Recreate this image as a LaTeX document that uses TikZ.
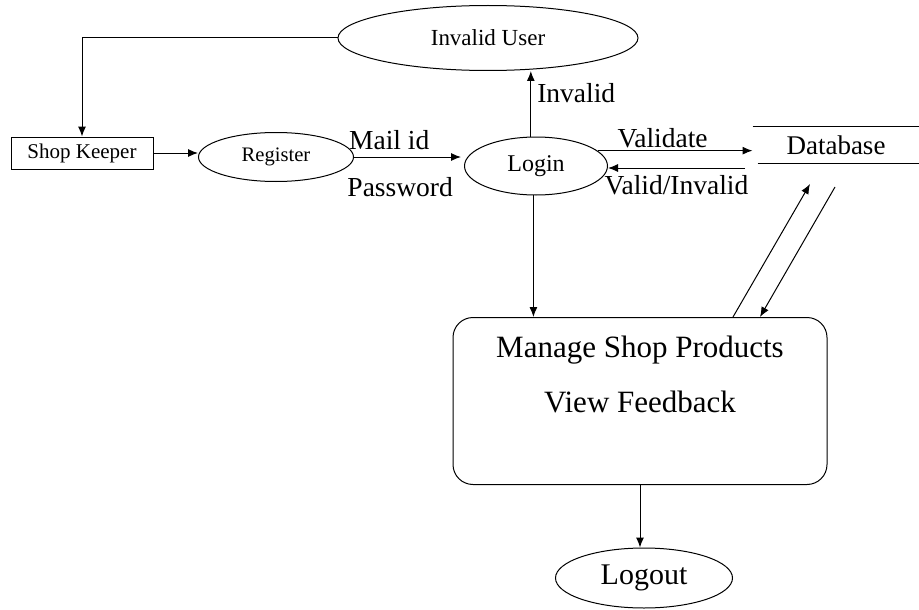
\documentclass[tikz,border=0pt]{standalone}
\usepackage{fontspec}
\setmainfont{Liberation Serif}
\usetikzlibrary{shapes.geometric,arrows.meta}

\begin{document}
\begin{tikzpicture}[x=1pt, y=-1pt, line width=1pt,
  >={Latex[length=10pt,width=8pt]},
  proc/.style={draw, ellipse, inner sep=0pt},
  lbl/.style={font=\fontsize{27.5}{30}\selectfont, inner sep=2pt}]
  \useasboundingbox (0,0) rectangle (919,610);

  % Draw the processes
  \node[proc, minimum width=300pt, minimum height=65pt, font=\fontsize{23}{26}\selectfont] (invuser) at (488,38) {Invalid User};
  \node[draw, minimum width=142pt, minimum height=32pt, inner sep=0pt, font=\fontsize{21}{24}\selectfont] (keeper) at (82,153) {Shop Keeper};
  \node[proc, minimum width=155pt, minimum height=49pt, font=\fontsize{20.6}{24}\selectfont] (register) at (276,157) {Register};
  \node[proc, minimum width=143pt, minimum height=58pt, font=\fontsize{24}{27}\selectfont] (login) at (536,166) {Login};
  \node[proc, minimum width=177pt, minimum height=60pt, font=\fontsize{30}{34}\selectfont] (logout) at (644,578) {Logout};

  % Draw the data store
  \node[minimum width=166pt, minimum height=36pt, inner sep=0pt, font=\fontsize{27}{30}\selectfont] (db) at (836,145) {Database\hspace{10pt}};
  \draw (db.north west) -- (db.north east);
  \draw ([xshift=5pt]db.south west) -- (db.south east);

  % Draw the manage box
  \node[draw, rounded corners=20pt, minimum width=374pt, minimum height=167pt] (manage) at (640,401) {};
  \node[font=\fontsize{31}{35}\selectfont] (mtask) at (640,350) {Manage Shop Products};
  \node[font=\fontsize{31}{35}\selectfont] (mfeed) at (640,402) {View Feedback};

  % Draw the flows
  \draw[->] (invuser.west) -| (keeper.north);
  \draw[->] (keeper.east) -- (keeper.east -| register.west);
  \draw[->, shorten >=3pt] (register.east) -- (register.east -| login.west)
    node[lbl, pos=0.32, above=5pt] {Mail id}
    node[lbl, pos=0.42, below=18pt] {Password};
  \draw[->] (login.100) -- (login.100 |- invuser.south)
    node[lbl, pos=0.67, right=4pt] {Invalid};
  \draw[->] (login.14) -- (login.14 -| db.west)
    node[lbl, pos=0.42, above] {Validate};
  \coordinate (dbret) at (745,168);
  \draw[->] (dbret) -- (dbret -| login.east)
    node[lbl, midway, below=5pt] {Valid/Invalid};
  \draw[->] (login.265) -- (login.265 |- manage.north);

  % Draw the lines between box and database
  \coordinate (dbin) at (810,184);
  \coordinate (dbout) at (835,187);
  \draw[->] ([xshift=93pt]manage.north) -- (dbin);
  \draw[->] (dbout) -- ([xshift=120pt]manage.north);

  \draw[->] (manage.south) -- (manage.south |- logout.north);
\end{tikzpicture}
\end{document}
